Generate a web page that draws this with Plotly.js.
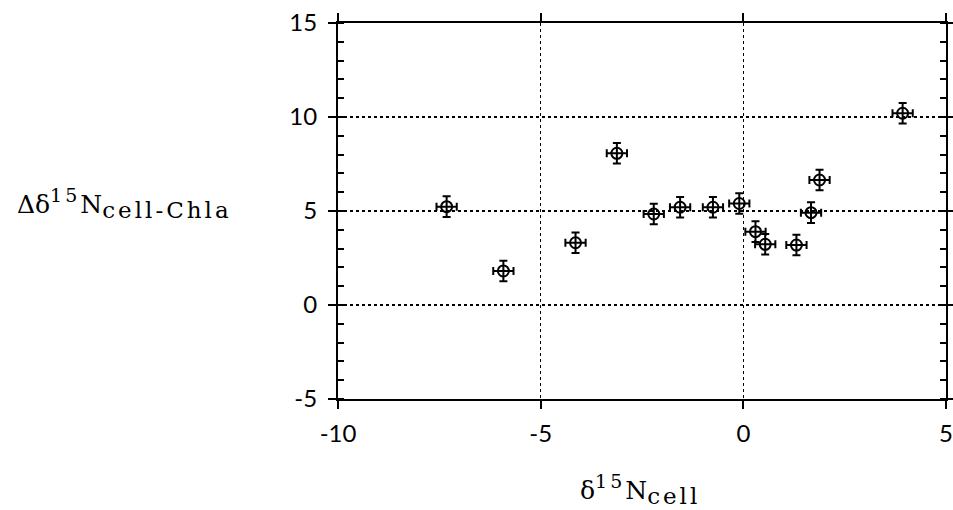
<!DOCTYPE html>
<html>
<head>
<meta charset="utf-8">
<script src="https://cdn.plot.ly/plotly-3.0.1.min.js"></script>
<style>html,body{margin:0;padding:0;background:#fff;}#chart{width:953px;height:510px;}</style>
</head>
<body>
<div id="chart"></div>
<script>
var d15Ncell = [-7.32, -5.92, -4.14, -3.12, -2.21, -1.56, -0.75, -0.10, 0.30, 0.54, 1.31, 1.67, 1.88, 3.93];
var deltaCellChla = [5.23, 1.81, 3.31, 8.07, 4.84, 5.20, 5.20, 5.40, 3.90, 3.23, 3.19, 4.91, 6.65, 10.20];
var xErr = [0.25, 0.25, 0.25, 0.25, 0.25, 0.25, 0.25, 0.25, 0.25, 0.25, 0.25, 0.25, 0.25, 0.25];
var yErr = [0.55, 0.55, 0.55, 0.55, 0.55, 0.55, 0.55, 0.55, 0.55, 0.55, 0.55, 0.55, 0.55, 0.55];
var xTicks = [-10, -5, 0, 5];
var yTicks = [-5, 0, 5, 10, 15];

var trace = {
  x: d15Ncell, y: deltaCellChla, mode: 'markers', type: 'scatter',
  marker: {symbol: 'circle-open', size: 11, color: '#000', line: {width: 2, color: '#000'}},
  error_x: {type: 'data', array: xErr, visible: true, color: '#000', thickness: 2, width: 4},
  error_y: {type: 'data', array: yErr, visible: true, color: '#000', thickness: 2, width: 4},
  showlegend: false, hoverinfo: 'none'
};

var serif = '"DejaVu Serif", "Liberation Serif", serif';
var sup = function (t) { return '<sup><span style="font-size:19px;letter-spacing:3px">' + t + '</span></sup>'; };
var sub = function (t) { return '<sub><span style="font-size:23px;letter-spacing:3px">' + t + '</span></sub>'; };
var tickFont = {family: 'Lato', size: 24, color: '#000'};

var layout = {
  width: 953, height: 510,
  margin: {l: 338, r: 7, t: 23, b: 111},
  paper_bgcolor: '#fff', plot_bgcolor: '#fff',
  font: {family: 'Lato', size: 24, color: '#000'},
  xaxis: {
    range: [-10, 5], tickvals: xTicks, ticktext: xTicks.map(String), tickfont: tickFont,
    ticklabeloverflow: 'allow',
    showline: true, linecolor: '#000', linewidth: 2, mirror: 'allticks',
    ticks: 'outside', ticklen: 8, tickwidth: 2, tickcolor: '#000',
    showgrid: true, gridcolor: '#000', gridwidth: 1.5, griddash: 'dot',
    zeroline: false, ticklabelstandoff: 4
  },
  yaxis: {
    range: [-5, 15], tickvals: yTicks, ticktext: yTicks.map(String), tickfont: tickFont,
    showline: true, linecolor: '#000', linewidth: 2, mirror: 'allticks',
    ticks: 'outside', ticklen: 8, tickwidth: 2, tickcolor: '#000',
    minor: {dtick: 1, ticks: 'inside', ticklen: 6, tickwidth: 2, tickcolor: '#000', showgrid: false},
    showgrid: true, gridcolor: '#000', gridwidth: 1.5, griddash: 'dot',
    zeroline: false, ticklabelstandoff: 6
  },
  annotations: [
    {xref: 'paper', yref: 'paper', x: -0.531, y: 0.52, xanchor: 'left', yanchor: 'middle', showarrow: false,
     text: 'Δδ' + sup('15') + 'N' + sub('cell-Chla'), font: {family: serif, size: 25, color: '#000'}},
    {xref: 'paper', yref: 'paper', x: 0.497, y: -0.24, xanchor: 'center', yanchor: 'middle', showarrow: false,
     text: 'δ' + sup('15') + 'N' + sub('cell'), font: {family: serif, size: 25, color: '#000'}}
  ]
};

Plotly.newPlot('chart', [trace], layout, {staticPlot: true, displayModeBar: false});
</script>
</body>
</html>
